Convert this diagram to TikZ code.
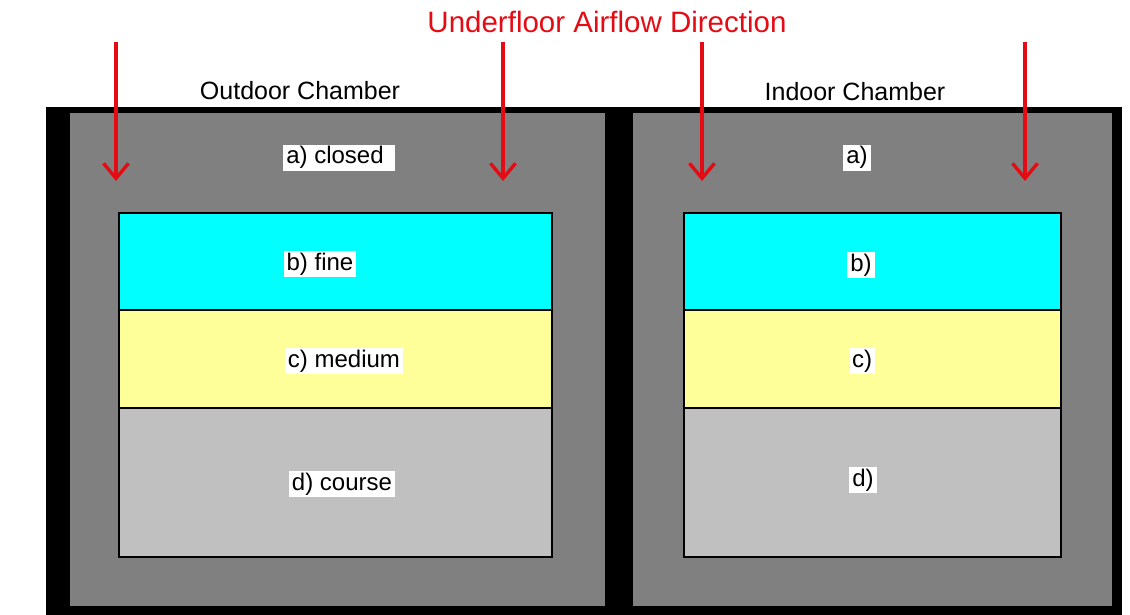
\documentclass[tikz,border=0pt]{standalone}
\usepackage{fontspec}
\setmainfont{Liberation Sans}
\usetikzlibrary{arrows.meta}
\definecolor{flowred}{RGB}{228,12,20}
\definecolor{chambergray}{RGB}{128,128,128}
\definecolor{finecyan}{RGB}{0,255,255}
\definecolor{medyellow}{RGB}{255,255,153}
\definecolor{coarsegray}{RGB}{192,192,192}
\tikzset{
  chamber/.style={fill=chambergray, draw=none},
  layer/.style={draw=black, line width=1.6pt},
  tag/.style={fill=white, text=black, inner xsep=3pt, inner ysep=1pt,
    text height=18pt, text depth=6pt, font=\fontsize{24}{28}\selectfont},
  heading/.style={font=\fontsize{25}{30}\selectfont, text=black, inner sep=0pt},
  flow/.style={draw=flowred, line width=3.4pt,
    -{Straight Barb[length=15pt,width=25pt,line width=3.4pt]}}
}
\begin{document}
\begin{tikzpicture}[x=1pt,y=-1pt]
\useasboundingbox (0,0) rectangle (1130,615);
\fill[white] (0,0) rectangle (1130,615);

% black housing and the two chambers
\fill[black] (46,107) rectangle (1122,615);
\path[chamber] (70,113) rectangle (605,606);
\path[chamber] (633,113) rectangle (1112,606);

% outdoor chamber layers
\path[layer, fill=finecyan]   (119,213) rectangle (552,310);
\path[layer, fill=medyellow]  (119,310) rectangle (552,408);
\path[layer, fill=coarsegray] (119,408) rectangle (552,557);

% indoor chamber layers
\path[layer, fill=finecyan]   (684,213) rectangle (1061,310);
\path[layer, fill=medyellow]  (684,310) rectangle (1061,408);
\path[layer, fill=coarsegray] (684,408) rectangle (1061,557);

% titles
\node[font=\fontsize{29.5}{34}\selectfont, text=flowred, inner sep=0pt] (title) at (607,22) {Underfloor Airflow Direction};
\node[heading] (outdoor) at (300,91) {Outdoor Chamber};
\node[heading] (indoor) at (855,92) {Indoor Chamber};

% layer labels
\node[tag] (oa) at (339,158) {a) closed\,\,};
\node[tag] (ob) at (320,264) {b) fine};
\node[tag] (oc) at (344,361) {c) medium};
\node[tag] (od) at (342,484) {d) course};
\node[tag] (ia) at (857,158) {a)};
\node[tag] (ib) at (861,265) {b)};
\node[tag] (ic) at (862,361) {c)};
\node[tag] (id) at (863,480) {d)};

% airflow arrows
\coordinate (s1) at (116,42);  \coordinate (e1) at (116,181);
\coordinate (s2) at (503,42);  \coordinate (e2) at (503,181);
\coordinate (s3) at (702,42);  \coordinate (e3) at (702,181);
\coordinate (s4) at (1025,42); \coordinate (e4) at (1025,181);
\draw[flow] (s1) -- (e1);
\draw[flow] (s2) -- (e2);
\draw[flow] (s3) -- (e3);
\draw[flow] (s4) -- (e4);
\end{tikzpicture}
\end{document}
